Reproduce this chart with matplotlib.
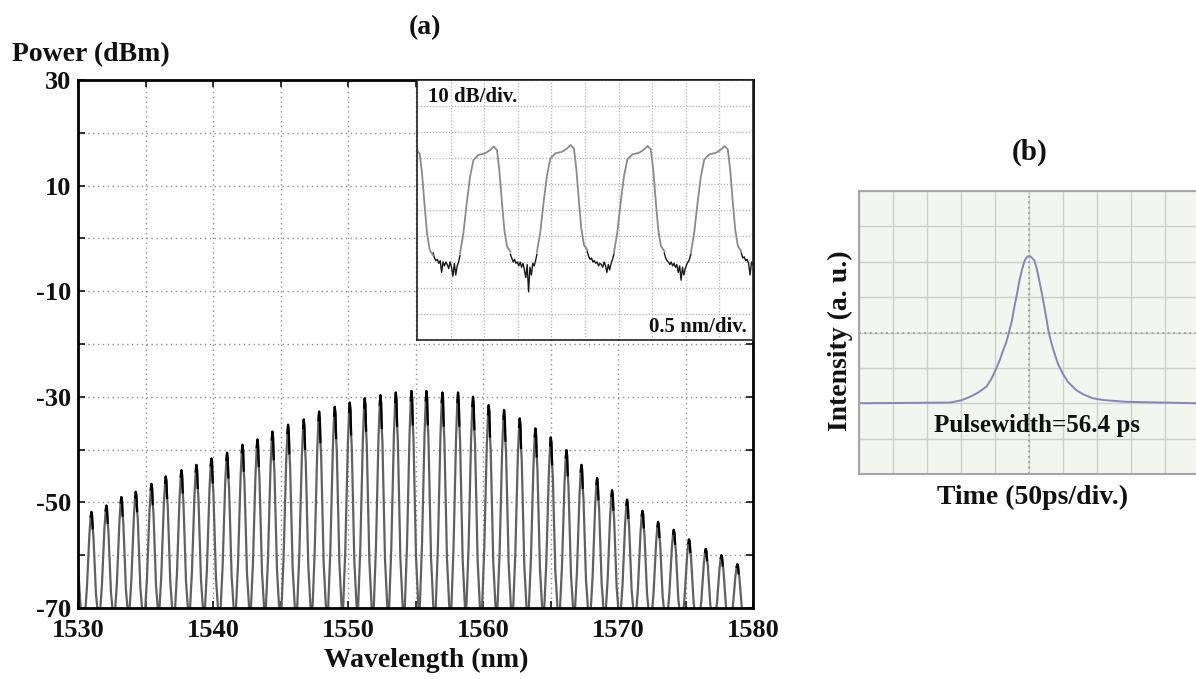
import matplotlib
matplotlib.use('Agg')
import matplotlib.pyplot as plt
from matplotlib.ticker import MultipleLocator
import numpy as np

# ---- (a) main spectrum: comb line centres (nm) and peak powers (dBm)
comb_wl = [1529.85, 1531.01, 1532.12, 1533.23, 1534.30, 1535.46, 1536.52, 1537.68,
           1538.79, 1539.90, 1541.06, 1542.20, 1543.31, 1544.42, 1545.58, 1546.74,
           1547.88, 1549.04, 1550.15, 1551.26, 1552.42, 1553.56, 1554.72, 1555.83,
           1557.01, 1558.17, 1559.28, 1560.44, 1561.58, 1562.74, 1563.90, 1565.04,
           1566.20, 1567.31, 1568.47, 1569.58, 1570.69, 1571.83, 1572.99, 1574.15,
           1575.28, 1576.52, 1577.68, 1578.86]
comb_peak = [-57.5, -51.8, -50.6, -49.0, -48.0, -46.5, -45.1, -43.9,
             -42.9, -41.7, -40.6, -39.1, -38.1, -36.6, -35.3, -34.3,
             -32.8, -31.9, -31.1, -30.3, -29.7, -29.2, -28.9, -28.9,
             -29.2, -29.2, -30.0, -31.6, -32.5, -34.1, -36.0, -37.7,
             -40.1, -42.9, -45.4, -47.7, -49.5, -51.6, -53.7, -55.2,
             -57.0, -58.8, -60.0, -61.7]
floor_dbm = -74.0
# shape of one comb line: offset from centre (nm), fraction of floor->peak
line_dx = [-0.57, -0.35, -0.16, -0.07, -0.02, 0.03, 0.08, 0.13, 0.20, 0.32, 0.57]
line_frac = [0.0, 0.35, 0.82, 0.96, 1.0, 0.97, 0.86, 0.80, 0.62, 0.30, 0.0]

# ---- inset (divisions: 0.5 nm/div, 10 dB/div)
pulse_pos = [-0.02, 2.28, 4.57, 6.86, 9.15]
pulse_peak = [7.30, 7.44, 7.50, 7.46, 7.46]
pulse_dx = [-1.0, -0.9, -0.8, -0.7, -0.6, -0.45, -0.25, -0.1, 0.0, 0.1, 0.17, 0.25, 0.32, 0.4, 0.5]
pulse_drop = [4.11, 3.34, 2.18, 1.16, 0.52, 0.32, 0.26, 0.13, 0.0, 0.13, 0.90, 2.18, 3.21, 3.85, 4.04]
floor_segs = [
    (0.48, 1.28, [3.35, 3.15, 3.05, 3.1, 2.95, 3.05, 2.6, 3.0, 2.85, 3.0,
                  2.9, 2.75, 3.0, 2.8, 2.45, 2.95, 2.5, 2.85, 3.0, 3.25]),
    (2.78, 3.57, [3.3, 3.15, 3.0, 3.1, 2.95, 3.0, 2.85, 3.0, 2.8, 2.95,
                  2.7, 2.4, 2.9, 1.85, 2.8, 2.5, 2.95, 2.85, 3.05, 3.3]),
    (5.07, 5.86, [3.4, 3.2, 3.1, 3.15, 3.0, 3.05, 2.95, 3.0, 2.85, 2.95,
                  2.9, 2.8, 3.0, 2.85, 2.6, 2.9, 2.7, 2.95, 3.1, 3.3]),
    (7.36, 8.15, [3.35, 3.15, 3.05, 3.0, 2.9, 3.0, 2.85, 2.95, 2.8, 2.9,
                  2.6, 2.85, 2.3, 2.8, 2.5, 2.75, 2.9, 3.0, 3.1, 3.3]),
    (9.65, 10.0, [3.35, 3.15, 3.2, 3.05, 3.1, 2.95, 2.5, 3.0, 2.9]),
]

# ---- (b) autocorrelation trace (divisions: 50 ps/div)
ac_t = [0, 2.68, 3.0, 3.26, 3.5, 3.75, 3.9, 4.04, 4.14, 4.24, 4.33, 4.41, 4.5,
        4.57, 4.65, 4.72, 4.8, 4.87, 4.92, 4.96, 5.0, 5.04, 5.1, 5.16, 5.23,
        5.3, 5.38, 5.45, 5.52, 5.58, 5.66, 5.75, 5.85, 5.99, 6.15, 6.39, 6.6,
        6.88, 7.2, 7.86, 10]
ac_i = [2.0, 2.02, 2.08, 2.18, 2.3, 2.47, 2.7, 2.99, 3.22, 3.5, 3.72, 4.0, 4.35,
        4.73, 5.1, 5.48, 5.8, 6.02, 6.11, 6.15, 6.16, 6.15, 6.1, 6.03, 5.8,
        5.48, 5.1, 4.73, 4.35, 4.0, 3.7, 3.41, 3.12, 2.84, 2.6, 2.37, 2.25,
        2.14, 2.09, 2.04, 2.0]

plt.rcParams['font.family'] = ['Liberation Serif', 'DejaVu Serif']
plt.rcParams['font.weight'] = 'bold'
plt.rcParams['axes.unicode_minus'] = False
txt = '#111111'

fig = plt.figure(figsize=(11.96, 6.79), dpi=100)
W, H = 1196.0, 679.0

# main spectrum
ax = fig.add_axes([78 / W, 1 - 608 / H, 675 / W, 528 / H])
ax.set_xlim(1530, 1580)
ax.set_ylim(-70, 30)
ax.set_xticks(range(1530, 1581, 10))
ax.xaxis.set_minor_locator(MultipleLocator(5))
ax.set_yticks(range(-70, 31, 20))
ax.yaxis.set_minor_locator(MultipleLocator(10))
ax.grid(which='both', ls=(0, (1, 2.5)), color='#8c8c8c', lw=1.0)
ax.tick_params(which='both', direction='in', length=5, width=1.2,
               top=True, right=True, labelsize=19, colors=txt)
ax.tick_params(axis='x', pad=8)
ax.tick_params(axis='y', pad=5)
for s in ax.spines.values():
    s.set_linewidth(2)
    s.set_color('black')

wl, pw = [], []
for c, p in zip(comb_wl, comb_peak):
    for d, f in zip(line_dx, line_frac):
        wl.append(c + d)
        pw.append(floor_dbm + f * (p - floor_dbm))
ax.plot(wl, pw, color='#606060', lw=1.6)
for c, p in zip(comb_wl, comb_peak):
    ax.plot([c + d for d in line_dx[3:7]],
            [floor_dbm + f * (p - floor_dbm) for f in line_frac[3:7]],
            color='black', lw=1.6)

fig.text(12 / W, 1 - 55 / H, 'Power (dBm)', ha='left', va='center', size=20, color=txt)
fig.text(426 / W, 1 - 660 / H, 'Wavelength (nm)', ha='center', va='center', size=20, color=txt)
fig.text(425 / W, 1 - 28 / H, '(a)', ha='center', va='center', size=20, color=txt)

# inset
axi = fig.add_axes([417 / W, 1 - 340 / H, 336 / W, 260 / H])
axi.set_zorder(3)
axi.set_facecolor('white')
axi.set_xlim(0, 10)
axi.set_ylim(0, 10)
axi.set_xticks(range(11))
axi.set_yticks(range(11))
axi.grid(ls=(0, (1, 1.5)), color='#b4b4b4', lw=0.9)
axi.tick_params(length=0, labelbottom=False, labelleft=False)
for s in axi.spines.values():
    s.set_linewidth(1.2)
    s.set_color('#222222')

for (x0, x1, vals) in floor_segs:
    fx = np.linspace(x0, x1, len(vals))
    axi.plot(fx, vals, color='#1a1a1a', lw=1.0)
for pos, pk in zip(pulse_pos, pulse_peak):
    axi.plot([pos + d for d in pulse_dx], [pk - d for d in pulse_drop],
             color='#8a8a8a', lw=1.3)
axi.text(0.033, 0.975, '10 dB/div.', transform=axi.transAxes, ha='left', va='top',
         size=15, color=txt)
axi.text(0.982, 0.05, '0.5 nm/div.', transform=axi.transAxes, ha='right', va='center',
         size=15, color=txt)

# panel (b)
axb = fig.add_axes([859 / W, 1 - 474 / H, 340 / W, 283 / H])
axb.set_facecolor('#f2f6ee')
axb.set_xlim(0, 10)
axb.set_ylim(0, 8)
axb.set_xticks(range(11))
axb.set_yticks(range(9))
axb.grid(color='#cdd0ca', lw=1.0)
axb.tick_params(length=0, labelbottom=False, labelleft=False)
axb.axhline(4, color='#9a9a9a', lw=1.3, ls=(0, (1, 2)))
axb.axvline(5, color='#9a9a9a', lw=1.3, ls=(0, (1, 2)))
for s in axb.spines.values():
    s.set_linewidth(1.5)
    s.set_color('#a6a6a6')
axb.plot(ac_t, ac_i, color='#8a82bd', lw=1.4)
axb.text(5.24, 1.38, 'Pulsewidth=56.4 ps', ha='center', va='center', size=18, color=txt)

fig.text(1030 / W, 1 - 152 / H, '(b)', ha='center', va='center', size=21, color=txt)
fig.text(840 / W, 1 - 341 / H, 'Intensity (a. u.)', ha='center', va='center',
         rotation=90, size=20, color=txt)
fig.text(1033 / W, 1 - 497 / H, 'Time (50ps/div.)', ha='center', va='center', size=20, color=txt)

fig.savefig('out.png', dpi=100)
